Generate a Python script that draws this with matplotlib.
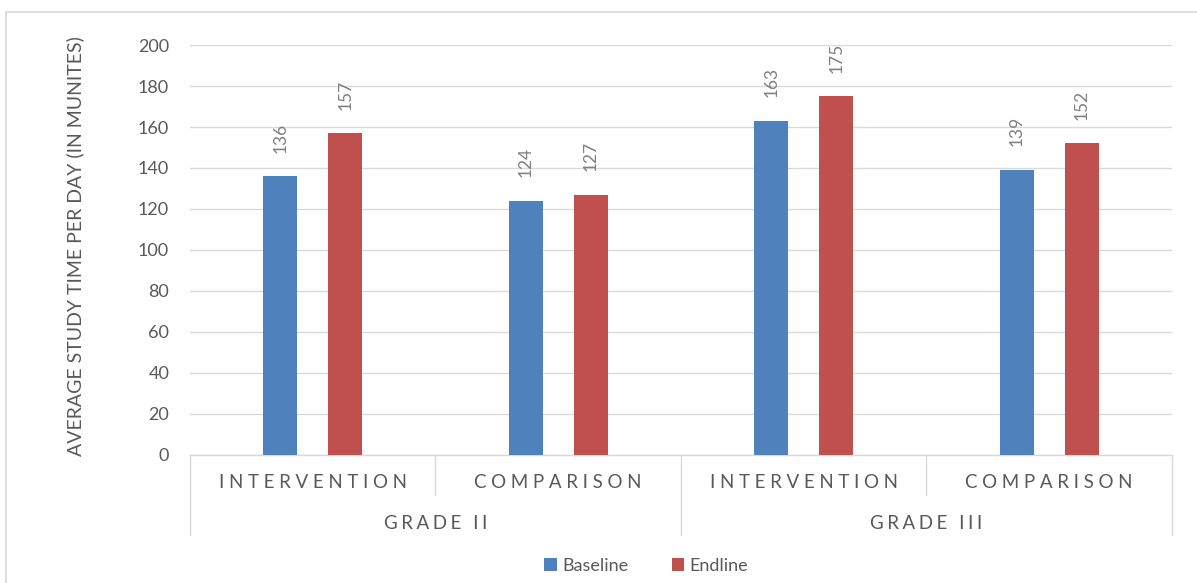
import matplotlib
matplotlib.use("Agg")
import matplotlib.pyplot as plt
import matplotlib.patches as mpatches
import numpy as np

plt.rcParams['font.family'] = ['Lato', 'DejaVu Sans']

# study time per day, minutes
categories = ['INTERVENTION', 'COMPARISON', 'INTERVENTION', 'COMPARISON']
grades = ['GRADE II', 'GRADE III']
baseline = [136, 124, 163, 139]
endline = [157, 127, 175, 152]
series_names = ['Baseline', 'Endline']

BLUE = '#4F81BD'
RED = '#C0504D'
TEXT = '#595959'
GRID = '#d9d9d9'


def spaced(s, gap='\u2009\u200a'):
    # imitate wide tracking of the axis labels
    return gap.join(s)


fig = plt.figure(figsize=(11.97, 5.83), dpi=100)
ax = fig.add_axes([0.1587, 0.2196, 0.8204, 0.7032])

# outer chart frame
fig.patches.append(mpatches.Rectangle((0.005, -0.05), 1.1, 1.03,
                                      transform=fig.transFigure,
                                      fill=False, edgecolor=GRID, lw=1.2))

x = np.arange(len(categories))
w = 0.138
off = 0.1325
b1 = ax.bar(x - off, baseline, w, color=BLUE, label=series_names[0], zorder=3)
b2 = ax.bar(x + off, endline, w, color=RED, label=series_names[1], zorder=3)

for bars in (b1, b2):
    for rect in bars:
        h = rect.get_height()
        ax.annotate(f'{h:.0f}', (rect.get_x() + rect.get_width() / 2, h),
                    xytext=(0, 17), textcoords='offset points',
                    rotation=90, ha='center', va='bottom',
                    fontsize=12.5, color='#7f7f7f')

ax.set_xlim(-0.5, 3.5)
ax.set_ylim(0, 200)
ax.set_yticks(np.arange(0, 201, 20))
ax.tick_params(axis='y', length=0, pad=15, labelsize=13, labelcolor=TEXT)
ax.set_xticks([])
ax.grid(axis='y', color=GRID, lw=1, zorder=0)
for s in ['top', 'right', 'left']:
    ax.spines[s].set_visible(False)
ax.spines['bottom'].set_color(GRID)
ax.spines['bottom'].set_linewidth(1)

# category / group separators below the axis
trans = ax.get_xaxis_transform()
for xs in [0.5, 2.5]:
    ax.plot([xs, xs], [0, -0.0976], transform=trans, color=GRID, lw=1,
            clip_on=False)
for xs in [-0.5, 1.5, 3.5]:
    ax.plot([xs, xs], [0, -0.195], transform=trans, color=GRID, lw=1,
            clip_on=False)

for xi, cat in zip(x, categories):
    ax.text(xi, -0.068, spaced(cat, '\u2009\u200a\u200a'), transform=trans,
            ha='center', va='center', fontsize=13.5, color=TEXT)
for gi, g in enumerate(grades):
    ax.text(2 * gi + 0.5, -0.166, spaced(g), transform=trans, ha='center',
            va='center', fontsize=13.5, color=TEXT)

ax.set_ylabel('AVERAGE STUDY TIME PER DAY (IN MUNITES)', fontsize=14,
              color=TEXT)
ax.yaxis.set_label_coords(-0.108, 0.51)

fig.legend(handles=[b1, b2], loc='center', bbox_to_anchor=(0.54, 0.03),
           ncol=2, frameon=False, fontsize=13, labelcolor=TEXT,
           handlelength=0.7, handleheight=0.7, handletextpad=0.3,
           columnspacing=2.4)

fig.savefig('out.png', dpi=100)
